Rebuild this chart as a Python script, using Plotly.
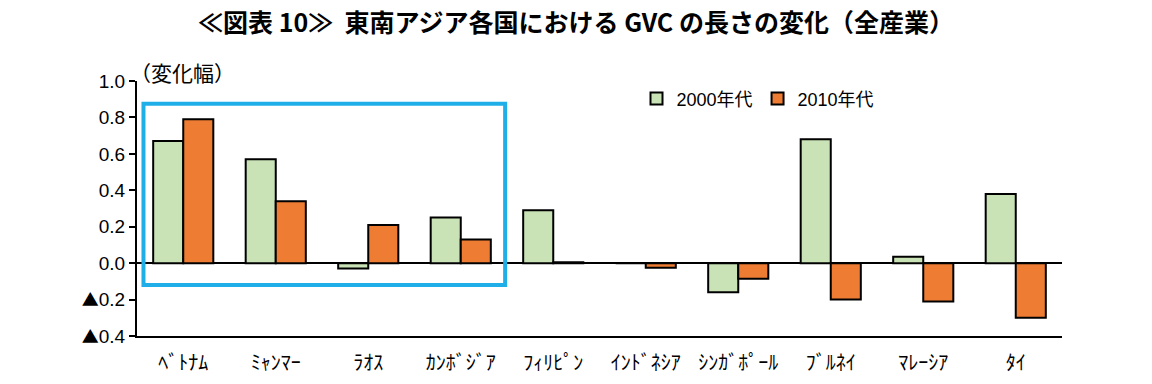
import plotly.graph_objects as go

categories = ["ﾍﾞﾄﾅﾑ", "ﾐｬﾝﾏｰ", "ﾗｵｽ", "ｶﾝﾎﾞｼﾞｱ", "ﾌｨﾘﾋﾟﾝ", "ｲﾝﾄﾞﾈｼｱ", "ｼﾝｶﾞﾎﾟｰﾙ", "ﾌﾞﾙﾈｲ", "ﾏﾚｰｼｱ", "ﾀｲ"]
values_2000s = [0.67, 0.57, -0.03, 0.25, 0.29, 0.0, -0.16, 0.68, 0.035, 0.38]
values_2010s = [0.79, 0.34, 0.21, 0.13, 0.005, -0.025, -0.085, -0.20, -0.21, -0.30]
tick_vals = [-0.4, -0.2, 0.0, 0.2, 0.4, 0.6, 0.8, 1.0]
tick_text = ["▲0.4", "▲0.2", "0.0", "0.2", "0.4", "0.6", "0.8", "1.0"]

FONT = "Noto Sans CJK JP"
TRI = "<span style='font-family:\"Noto Sans CJK JP\";font-size:17px'>▲</span>"
tick_text_html = [t.replace("▲", TRI) for t in tick_text]

fig = go.Figure()
fig.add_trace(go.Bar(x=categories, y=values_2000s, name="2000年代",
                     marker=dict(color="#C9E3B7", line=dict(color="black", width=2))))
fig.add_trace(go.Bar(x=categories, y=values_2010s, name="2010年代",
                     marker=dict(color="#EE7D33", line=dict(color="black", width=2))))

fig.add_shape(type="rect", xref="x", yref="y", x0=-0.43, x1=3.48, y0=-0.12, y1=0.875,
              line=dict(color="#1FAEE8", width=4), fillcolor="rgba(0,0,0,0)", layer="above")

fig.update_layout(
    width=1152, height=384,
    margin=dict(l=137, r=90, t=81, b=48, autoexpand=False),
    paper_bgcolor="white", plot_bgcolor="white",
    barmode="group", bargap=0.35, bargroupgap=0,
    font=dict(family=FONT, color="black", size=16),
    title=dict(text="<b>≪図表 10≫&nbsp; 東南アジア各国における GVC の長さの変化（全産業）</b>",
               x=0.5, xanchor="center", y=0.94, yanchor="middle",
               font=dict(family=FONT, size=25, color="black")),
    showlegend=True,
    legend=dict(orientation="h", x=0.54, xanchor="left", y=0.93, yanchor="middle",
                font=dict(family="Liberation Sans, " + FONT, size=18), bgcolor="rgba(0,0,0,0)",
                itemwidth=30, traceorder="normal"),
    xaxis=dict(showline=True, linecolor="black", linewidth=2, ticks="",
               tickfont=dict(family=FONT, size=20), showgrid=False, zeroline=False,
               anchor="y", ticklabelstandoff=8, automargin=False),
    yaxis=dict(range=[-0.4, 1.0], tickvals=tick_vals, ticktext=tick_text_html,
               showline=True, linecolor="black", linewidth=2, ticks="outside",
               ticklen=6, tickwidth=2, tickcolor="black", showgrid=False,
               zeroline=True, zerolinecolor="black", zerolinewidth=2, automargin=False,
               tickfont=dict(family="Liberation Sans", size=19)),
)
fig.add_annotation(text="（変化幅）", xref="paper", yref="paper", x=-0.01, y=1.035,
                   xanchor="left", yanchor="middle", showarrow=False,
                   font=dict(family=FONT, size=21))

fig.write_html("out.html")
